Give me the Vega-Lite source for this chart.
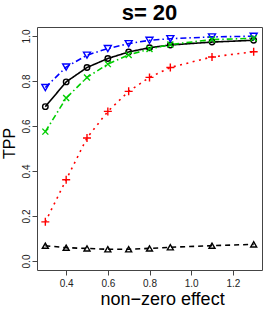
{
  "$schema": "https://vega.github.io/schema/vega-lite/v6.json",
  "autosize": "none",
  "width": 225,
  "height": 243,
  "padding": {"left": 37, "top": 27, "right": 4, "bottom": 40},
  "background": "white",
  "config": {"view": {"stroke": "#444", "strokeWidth": 1}, "font": "Liberation Sans"},
  "title": {"text": "s= 20", "fontSize": 22, "fontWeight": "bold", "font": "Liberation Sans", "anchor": "middle", "offset": 2, "color": "black"},
  "data": {"values": [
    {"effect": 0.3, "tpp": 0.686, "method": "A"},
    {"effect": 0.4, "tpp": 0.796, "method": "A"},
    {"effect": 0.5, "tpp": 0.860, "method": "A"},
    {"effect": 0.6, "tpp": 0.900, "method": "A"},
    {"effect": 0.7, "tpp": 0.929, "method": "A"},
    {"effect": 0.8, "tpp": 0.948, "method": "A"},
    {"effect": 0.9, "tpp": 0.960, "method": "A"},
    {"effect": 1.1, "tpp": 0.973, "method": "A"},
    {"effect": 1.3, "tpp": 0.981, "method": "A"},
    {"effect": 0.3, "tpp": 0.771, "method": "B"},
    {"effect": 0.4, "tpp": 0.862, "method": "B"},
    {"effect": 0.5, "tpp": 0.915, "method": "B"},
    {"effect": 0.6, "tpp": 0.944, "method": "B"},
    {"effect": 0.7, "tpp": 0.966, "method": "B"},
    {"effect": 0.8, "tpp": 0.981, "method": "B"},
    {"effect": 0.9, "tpp": 0.988, "method": "B"},
    {"effect": 1.1, "tpp": 0.996, "method": "B"},
    {"effect": 1.3, "tpp": 0.999, "method": "B"},
    {"effect": 0.3, "tpp": 0.575, "method": "C"},
    {"effect": 0.4, "tpp": 0.724, "method": "C"},
    {"effect": 0.5, "tpp": 0.816, "method": "C"},
    {"effect": 0.6, "tpp": 0.875, "method": "C"},
    {"effect": 0.7, "tpp": 0.916, "method": "C"},
    {"effect": 0.8, "tpp": 0.942, "method": "C"},
    {"effect": 0.9, "tpp": 0.962, "method": "C"},
    {"effect": 1.1, "tpp": 0.984, "method": "C"},
    {"effect": 1.3, "tpp": 0.990, "method": "C"},
    {"effect": 0.3, "tpp": 0.174, "method": "D"},
    {"effect": 0.4, "tpp": 0.361, "method": "D"},
    {"effect": 0.5, "tpp": 0.547, "method": "D"},
    {"effect": 0.6, "tpp": 0.665, "method": "D"},
    {"effect": 0.7, "tpp": 0.754, "method": "D"},
    {"effect": 0.8, "tpp": 0.816, "method": "D"},
    {"effect": 0.9, "tpp": 0.860, "method": "D"},
    {"effect": 1.1, "tpp": 0.907, "method": "D"},
    {"effect": 1.3, "tpp": 0.930, "method": "D"},
    {"effect": 0.3, "tpp": 0.068, "method": "E"},
    {"effect": 0.4, "tpp": 0.059, "method": "E"},
    {"effect": 0.5, "tpp": 0.056, "method": "E"},
    {"effect": 0.6, "tpp": 0.052, "method": "E"},
    {"effect": 0.7, "tpp": 0.052, "method": "E"},
    {"effect": 0.8, "tpp": 0.056, "method": "E"},
    {"effect": 0.9, "tpp": 0.061, "method": "E"},
    {"effect": 1.1, "tpp": 0.068, "method": "E"},
    {"effect": 1.3, "tpp": 0.074, "method": "E"}
  ]},
  "encoding": {
    "x": {"field": "effect", "type": "quantitative",
      "scale": {"domain": [0.26, 1.34], "nice": false, "zero": false},
      "axis": {"values": [0.4, 0.6, 0.8, 1.0, 1.2], "format": ".1f", "grid": false, "domain": false,
        "tickSize": 5, "tickColor": "#444", "labelFontSize": 10, "labelPadding": 3, "labelColor": "#222",
        "labelFont": "Liberation Sans",
        "title": "non−zero effect", "titleFontSize": 18, "titleFontWeight": "normal", "titleColor": "black",
        "titleFont": "Liberation Sans", "titleX": 125, "titleY": 34, "titleBaseline": "alphabetic", "titleAlign": "center"}},
    "y": {"field": "tpp", "type": "quantitative",
      "scale": {"domain": [-0.04, 1.04], "nice": false, "zero": false},
      "axis": {"values": [0, 0.2, 0.4, 0.6, 0.8, 1.0], "format": ".1f", "grid": false, "domain": false,
        "tickSize": 5, "tickColor": "#444", "labelFontSize": 10, "labelPadding": 3, "labelColor": "#222",
        "labelFont": "Liberation Sans", "labelAngle": 270, "labelAlign": "center", "labelBaseline": "alphabetic",
        "title": "TPP", "titleFontSize": 16, "titleFontWeight": "normal", "titleColor": "black",
        "titleFont": "Liberation Sans", "titleAngle": 270, "titleX": -23, "titleY": 116,
        "titleBaseline": "alphabetic", "titleAlign": "center"}}
  },
  "layer": [
    {"mark": {"type": "line", "strokeWidth": 1.6},
     "encoding": {
       "color": {"field": "method", "type": "nominal", "legend": null,
         "scale": {"domain": ["A", "B", "C", "D", "E"], "range": ["#000000", "#0000FF", "#00CD00", "#FF0000", "#000000"]}},
       "strokeDash": {"field": "method", "type": "nominal", "legend": null,
         "scale": {"domain": ["A", "B", "C", "D", "E"], "range": [[1, 0], [6, 3, 1.5, 3], [6, 3, 1.5, 3], [2, 4.5], [5, 4]]}}
     }},
    {"mark": {"type": "point", "filled": false, "strokeWidth": 1.4, "opacity": 1},
     "encoding": {
       "color": {"field": "method", "type": "nominal", "legend": null,
         "scale": {"domain": ["A", "B", "C", "D", "E"], "range": ["#000000", "#0000FF", "#00CD00", "#FF0000", "#000000"]}},
       "shape": {"field": "method", "type": "nominal", "legend": null,
         "scale": {"domain": ["A", "B", "C", "D", "E"], "range": ["circle", "triangle-down", "M-1,-1L1,1M-1,1L1,-1", "M-1,0H1M0,-1V1", "triangle-up"]}},
       "size": {"field": "method", "type": "nominal", "legend": null,
         "scale": {"type": "ordinal", "domain": ["A", "B", "C", "D", "E"], "range": [30, 49, 36, 64, 36]}}
     }}
  ]
}
